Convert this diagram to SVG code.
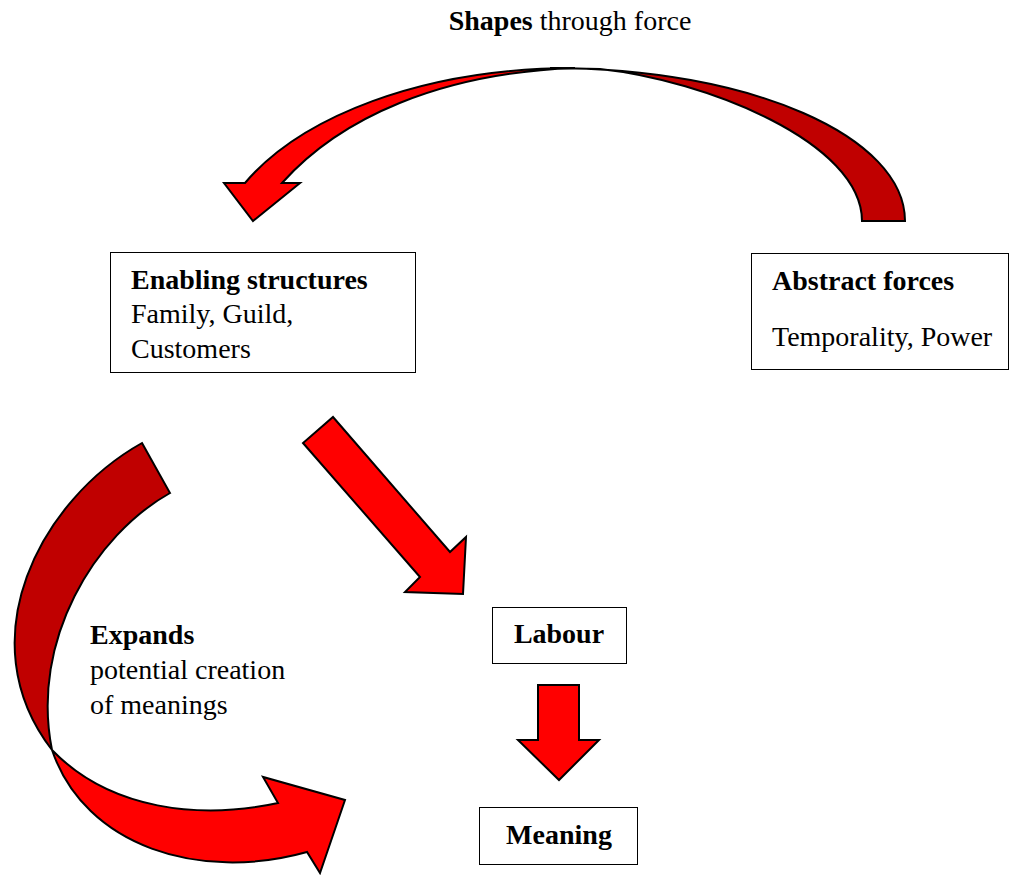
<svg xmlns="http://www.w3.org/2000/svg" width="1010" height="875" viewBox="0 0 1010 875">
<style>
.box{fill:#fff;stroke:#000;stroke-width:1}
.t{font-family:"Liberation Serif","Times New Roman",serif;font-size:28px;fill:#000}
.b{font-weight:bold}
.front{fill:#ff0000;stroke:#000;stroke-width:2;stroke-linejoin:miter}
.back{fill:#c00000;stroke:#000;stroke-width:2;stroke-linejoin:miter}
</style>
<rect width="1010" height="875" fill="#fff"/>
<g id="connectors">
  <g id="shapes-arrow">
    <path class="back" d="M905,221 C905,137 752,68 550,68 L600,69 C705,80 862,142 862,221 Z"/>
    <path class="front" d="M245,183 C300,118 420,68 575,68 C440,73 340,118 282,183 L300,183 L253,221 L224,183 Z"/>
    <text class="t" x="570" y="30" text-anchor="middle"><tspan class="b">Shapes</tspan> through force</text>
  </g>
  <g id="expands-arrow">
    <path class="back" d="M142,443 L170,493 C95,535 30,640 52,750 C-33,640 40,500 142,443 Z"/>
    <path class="front" d="M52,750 C85,847 200,882 307,852 L320,873 L345,800 L263,777 L278,803 C200,820 110,810 52,750 Z"/>
    <text class="t" x="90" y="644"><tspan class="b">Expands</tspan></text>
    <text class="t" x="90" y="679">potential creation</text>
    <text class="t" x="90" y="714">of meanings</text>
  </g>
  <path id="enabling-to-labour" class="front" d="M333,417 L450,552 L466,537 L463,594 L405,592 L420,577 L303,443 Z"/>
  <path id="labour-to-meaning" class="front" d="M538,685 L579,685 L579,740 L599,740 L559,780 L518,740 L538,740 Z"/>
</g>
<g id="enabling">
  <rect class="box" x="110.5" y="252.5" width="305" height="120"/>
  <text class="t b" x="131" y="289">Enabling structures</text>
  <text class="t" x="131" y="323">Family, Guild,</text>
  <text class="t" x="131" y="358">Customers</text>
</g>
<g id="abstract">
  <rect class="box" x="751.5" y="253.5" width="257" height="116"/>
  <text class="t b" x="772" y="290">Abstract forces</text>
  <text class="t" x="772" y="346">Temporality, Power</text>
</g>
<g id="labour">
  <rect class="box" x="492.5" y="607.5" width="134" height="56"/>
  <text class="t b" x="559" y="643" text-anchor="middle">Labour</text>
</g>
<g id="meaning">
  <rect class="box" x="479.5" y="807.5" width="158" height="57"/>
  <text class="t b" x="559" y="844" text-anchor="middle">Meaning</text>
</g>
</svg>
